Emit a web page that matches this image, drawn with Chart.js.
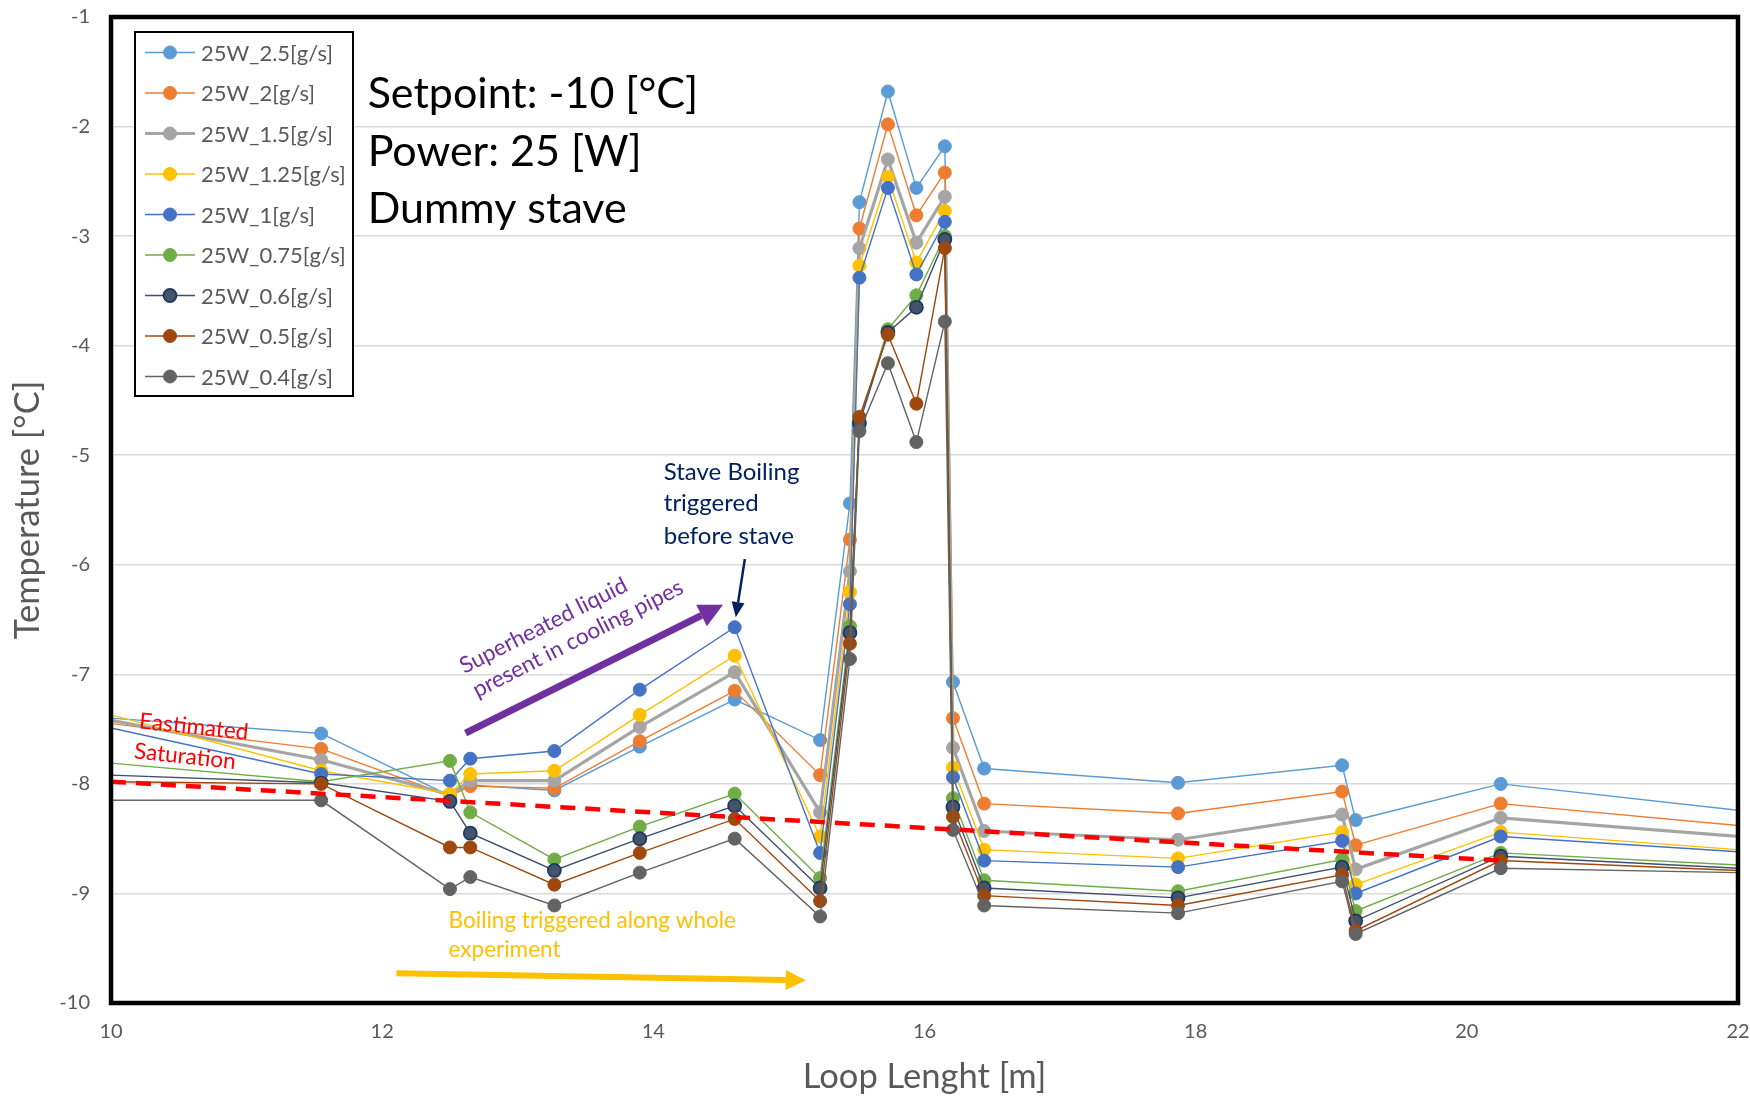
<!DOCTYPE html>
<html>
<head>
<meta charset="utf-8">
<title>Dummy stave loop temperature</title>
<script src="https://cdn.jsdelivr.net/npm/chart.js@4.4.1/dist/chart.umd.min.js"></script>
<style>
  html, body { margin: 0; padding: 0; background: #fff; }
  #wrap { width: 1750px; height: 1098px; }
</style>
</head>
<body>
<div id="wrap"><canvas id="loopChart" width="1750" height="1098"></canvas></div>
<script>
// loop position of every sensor [m] (first and last entries are where the lines leave the plot)
const loopLength = [10, 11.55, 12.5, 12.65, 13.27, 13.9, 14.6, 15.23, 15.45, 15.52, 15.73, 15.94, 16.15, 16.21, 16.44, 17.87, 19.08, 19.18, 20.25, 22];

const seriesLabels = ['25W_2.5[g/s]', '25W_2[g/s]', '25W_1.5[g/s]', '25W_1.25[g/s]', '25W_1[g/s]',
                      '25W_0.75[g/s]', '25W_0.6[g/s]', '25W_0.5[g/s]', '25W_0.4[g/s]'];

// temperatures [°C] per mass flow
const temp2p5  = [-7.40, -7.54, -8.11, -8.01, -8.06, -7.66, -7.23, -7.60, -5.44, -2.69, -1.68, -2.56, -2.18, -7.07, -7.86, -7.99, -7.83, -8.33, -8.00, -8.24];
const temp2    = [-7.45, -7.68, -8.11, -8.02, -8.04, -7.61, -7.15, -7.92, -5.77, -2.93, -1.98, -2.81, -2.42, -7.40, -8.18, -8.27, -8.07, -8.56, -8.18, -8.38];
const temp1p5  = [-7.42, -7.78, -8.10, -7.97, -7.97, -7.48, -6.98, -8.26, -6.06, -3.11, -2.30, -3.06, -2.64, -7.67, -8.43, -8.51, -8.28, -8.78, -8.31, -8.48];
const temp1p25 = [-7.37, -7.88, -8.09, -7.91, -7.88, -7.37, -6.83, -8.48, -6.25, -3.27, -2.46, -3.24, -2.77, -7.85, -8.60, -8.68, -8.44, -8.92, -8.44, -8.60];
const temp1    = [-7.49, -7.91, -7.97, -7.77, -7.70, -7.14, -6.57, -8.63, -6.36, -3.38, -2.56, -3.35, -2.87, -7.94, -8.70, -8.76, -8.52, -9.00, -8.48, -8.62];
const temp0p75 = [-7.81, -7.98, -7.79, -8.26, -8.69, -8.39, -8.09, -8.86, -6.56, -4.68, -3.85, -3.54, -3.00, -8.13, -8.88, -8.98, -8.69, -9.16, -8.63, -8.74];
const temp0p6  = [-7.92, -7.99, -8.16, -8.45, -8.79, -8.50, -8.20, -8.95, -6.62, -4.71, -3.88, -3.65, -3.03, -8.21, -8.95, -9.04, -8.76, -9.25, -8.66, -8.77];
const temp0p5  = [-7.98, -8.00, -8.58, -8.58, -8.92, -8.63, -8.32, -9.07, -6.72, -4.65, -3.90, -4.53, -3.11, -8.30, -9.02, -9.11, -8.83, -9.34, -8.70, -8.79];
const temp0p4  = [-8.15, -8.15, -8.96, -8.85, -9.11, -8.81, -8.50, -9.21, -6.86, -4.78, -4.16, -4.88, -3.78, -8.42, -9.11, -9.18, -8.89, -9.37, -8.77, -8.81];

// estimated saturation temperature along the loop
const satLength = [10, 20.25];
const satTemp   = [-7.98, -8.70];

const xTicks = [10, 12, 14, 16, 18, 20, 22];
const yTicks = [-10, -9, -8, -7, -6, -5, -4, -3, -2, -1];

const allTemps = [temp2p5, temp2, temp1p5, temp1p25, temp1, temp0p75, temp0p6, temp0p5, temp0p4];
const lineColors  = ['#5B9BD5', '#ED7D31', '#A5A5A5', '#FFC000', '#4472C4', '#70AD47', '#3E4F6B', '#9E480E', '#636363'];
const pointFills  = ['#5B9BD5', '#ED7D31', '#A5A5A5', '#FFC000', '#4472C4', '#70AD47', '#44546A', '#9E480E', '#636363'];
const pointEdges  = ['#5B9BD5', '#ED7D31', '#A5A5A5', '#FFC000', '#4472C4', '#70AD47', '#1F3864', '#9E480E', '#636363'];
const lineWidths  = [1.4, 1.4, 3.2, 1.4, 1.4, 1.4, 1.4, 1.4, 1.4];

const FONT = 'Lato, "Open Sans", sans-serif';
const GREY_TEXT = '#595959';

const datasets = allTemps.map((vals, i) => ({
  label: seriesLabels[i],
  data: loopLength.map((x, k) => ({ x: x, y: vals[k] })),
  borderColor: lineColors[i],
  backgroundColor: pointFills[i],
  pointBackgroundColor: pointFills[i],
  pointBorderColor: pointEdges[i],
  pointBorderWidth: i === 6 ? 1.8 : 1,
  borderWidth: lineWidths[i],
  pointRadius: c => (c.raw && (c.raw.x <= 10 || c.raw.x >= 22)) ? 0 : 6.5,
  pointHoverRadius: 6.5,
  tension: 0,
  order: -i
}));

datasets.push({
  label: 'saturation',
  data: satLength.map((x, k) => ({ x: x, y: satTemp[k] })),
  borderColor: '#FF0000',
  borderWidth: 4.5,
  borderDash: [15, 10],
  pointRadius: 0,
  order: -100
});

// helpers for the drawn notes
function arrow(ctx, x1, y1, x2, y2, color, width, headLen, headW) {
  const a = Math.atan2(y2 - y1, x2 - x1);
  const bx = x2 - headLen * Math.cos(a), by = y2 - headLen * Math.sin(a);
  ctx.save();
  ctx.strokeStyle = color;
  ctx.fillStyle = color;
  ctx.lineWidth = width;
  ctx.lineCap = 'butt';
  ctx.beginPath();
  ctx.moveTo(x1, y1);
  ctx.lineTo(bx, by);
  ctx.stroke();
  ctx.beginPath();
  ctx.moveTo(x2, y2);
  ctx.lineTo(bx + headW / 2 * Math.sin(a), by - headW / 2 * Math.cos(a));
  ctx.lineTo(bx - headW / 2 * Math.sin(a), by + headW / 2 * Math.cos(a));
  ctx.closePath();
  ctx.fill();
  ctx.restore();
}

function text(ctx, str, x, y, font, color, angle, baseline) {
  ctx.save();
  ctx.translate(x, y);
  ctx.rotate(angle * Math.PI / 180);
  ctx.font = font;
  ctx.fillStyle = color;
  ctx.textAlign = 'left';
  ctx.textBaseline = baseline || 'middle';
  ctx.fillText(str, 0, 0);
  ctx.restore();
}

const frameAndNotes = {
  id: 'frameAndNotes',
  afterDatasetsDraw(chart) {
    const { ctx, chartArea: a, scales: { x, y } } = chart;
    const px = v => x.getPixelForValue(v);
    const py = v => y.getPixelForValue(v);

    // heavy frame round the plot
    ctx.save();
    ctx.strokeStyle = '#000';
    ctx.lineWidth = 4.5;
    ctx.strokeRect(a.left, a.top, a.right - a.left, a.bottom - a.top);
    ctx.restore();

    // test conditions
    const big = '43px ' + FONT;
    text(ctx, 'Setpoint: -10 [°C]', px(11.893), py(-1.70), big, '#000', 0);
    text(ctx, 'Power: 25 [W]', px(11.893), py(-2.23), big, '#000', 0);
    text(ctx, 'Dummy stave', px(11.893), py(-2.75), big, '#000', 0);

    // saturation label
    const note = '22.5px ' + FONT;
    text(ctx, 'Eastimated', px(10.209), py(-7.427), note, '#FF0000', 6);
    text(ctx, 'Saturation', px(10.172), py(-7.701), note, '#FF0000', 6);

    // superheated liquid
    arrow(ctx, px(12.615), py(-7.537), px(14.514), py(-6.365), '#7030A0', 7, 24, 24);
    text(ctx, 'Superheated liquid', px(12.607), py(-6.998), note, '#7030A0', -27, 'alphabetic');
    text(ctx, 'present in cooling pipes', px(12.703), py(-7.217), note, '#7030A0', -27, 'alphabetic');

    // boiling before the stave
    const navy = '24px ' + FONT;
    text(ctx, 'Stave Boiling', px(14.077), py(-5.155), navy, '#002060', 0);
    text(ctx, 'triggered', px(14.077), py(-5.441), navy, '#002060', 0);
    text(ctx, 'before stave', px(14.077), py(-5.742), navy, '#002060', 0);
    arrow(ctx, px(14.675), py(-5.948), px(14.608), py(-6.478), '#002060', 2.5, 15, 13);

    // boiling along the whole run
    text(ctx, 'Boiling triggered along whole', px(12.49), py(-9.245), note, '#FFC000', 0);
    text(ctx, 'experiment', px(12.49), py(-9.510), note, '#FFC000', 0);
    arrow(ctx, px(12.105), py(-9.729), px(15.124), py(-9.793), '#FFC000', 6, 20, 20);
  },
  afterDraw(chart) {
    // legend box in the upper left corner
    const { ctx } = chart;
    ctx.save();
    ctx.fillStyle = '#fff';
    ctx.fillRect(135, 32, 218, 364);
    ctx.strokeStyle = '#000';
    ctx.lineWidth = 2;
    ctx.strokeRect(135, 32, 218, 364);
    seriesLabels.forEach((lab, i) => {
      const yy = 52.5 + i * 40.5;
      ctx.strokeStyle = lineColors[i];
      ctx.lineWidth = lineWidths[i];
      ctx.beginPath();
      ctx.moveTo(145, yy);
      ctx.lineTo(195, yy);
      ctx.stroke();
      ctx.beginPath();
      ctx.arc(170, yy, 6.5, 0, Math.PI * 2);
      ctx.fillStyle = pointFills[i];
      ctx.fill();
      ctx.lineWidth = i === 6 ? 1.8 : 1;
      ctx.strokeStyle = pointEdges[i];
      ctx.stroke();
      ctx.fillStyle = GREY_TEXT;
      ctx.font = '22px ' + FONT;
      ctx.textAlign = 'left';
      ctx.textBaseline = 'middle';
      ctx.fillText(lab, 201, yy + 1);
    });
    ctx.restore();
  }
};

new Chart(document.getElementById('loopChart'), {
  type: 'line',
  data: { datasets: datasets },
  options: {
    responsive: false,
    animation: false,
    devicePixelRatio: 1,
    layout: { padding: { top: 17, right: 12, bottom: 0, left: 0 } },
    plugins: {
      legend: { display: false },
      tooltip: { enabled: false }
    },
    scales: {
      x: {
        type: 'linear',
        min: 10,
        max: 22,
        afterBuildTicks: axis => { axis.ticks = xTicks.map(v => ({ value: v })); },
        afterFit: axis => { axis.height = 95; axis.paddingLeft = 0; axis.paddingRight = 0; },
        grid: { display: false, drawTicks: false },
        border: { display: false },
        ticks: { padding: 17, color: GREY_TEXT, font: { family: FONT, size: 20 } },
        title: {
          display: true,
          text: 'Loop Lenght [m]',
          color: GREY_TEXT,
          font: { family: FONT, size: 34.5 },
          padding: { top: 0, bottom: 0 }
        }
      },
      y: {
        type: 'linear',
        min: -10,
        max: -1,
        afterBuildTicks: axis => { axis.ticks = yTicks.map(v => ({ value: v })); },
        afterFit: axis => { axis.width = 111; axis.paddingTop = 0; axis.paddingBottom = 0; },
        grid: { color: '#D9D9D9', lineWidth: 1.5, drawTicks: false },
        border: { display: false },
        ticks: { padding: 21, color: GREY_TEXT, font: { family: FONT, size: 20 } },
        title: {
          display: true,
          text: 'Temperature [°C]',
          color: GREY_TEXT,
          font: { family: FONT, size: 34.5 },
          padding: { top: 7, bottom: 0 }
        }
      }
    }
  },
  plugins: [frameAndNotes]
});
</script>
</body>
</html>
